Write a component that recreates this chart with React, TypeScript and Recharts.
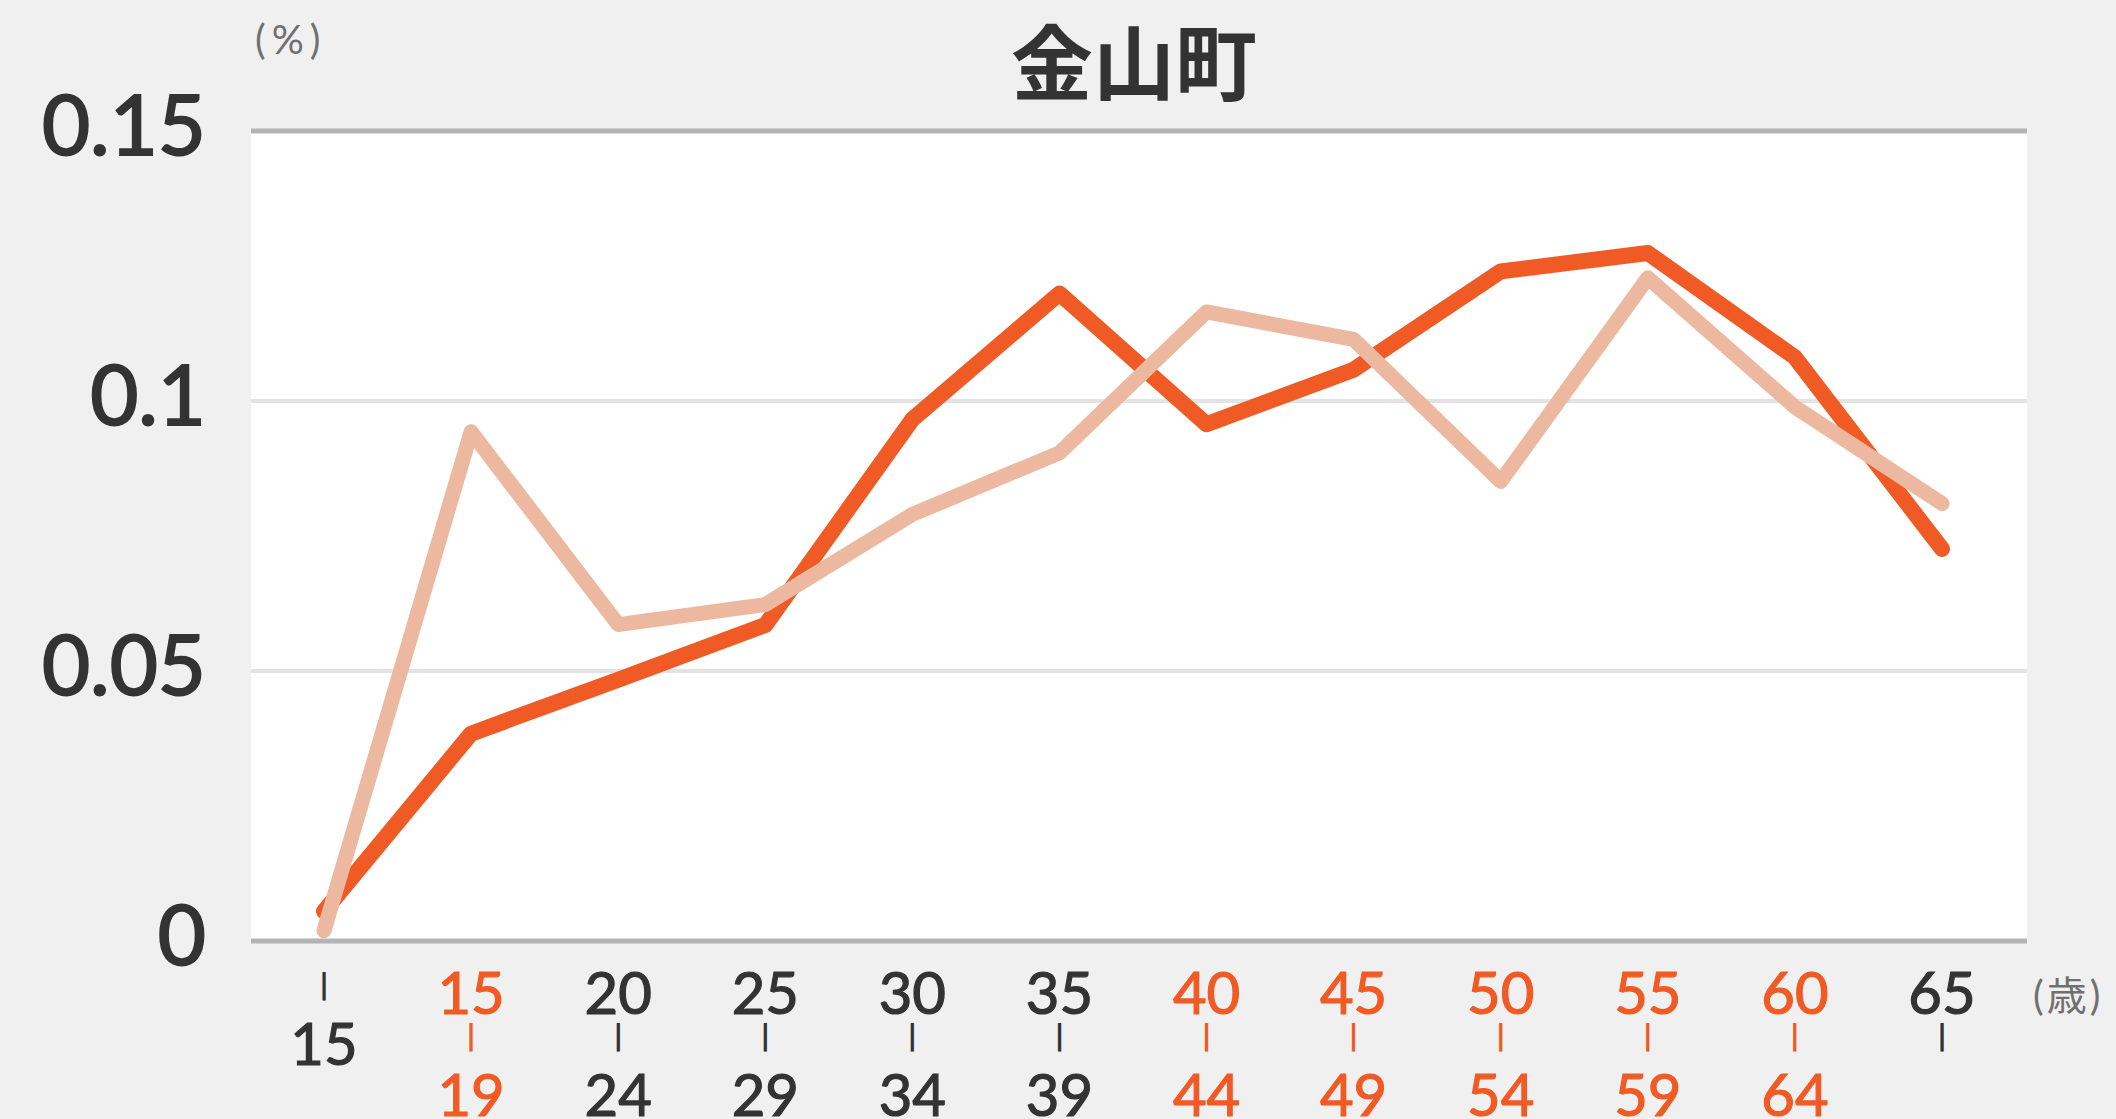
import React from "react";
import { LineChart, Line, XAxis, YAxis, CartesianGrid, ReferenceLine } from "recharts";

// Age bands ("~15" = under 15, "65~" = 65 and over) and the two rate series (%).
const ageBands = ["~15", "15-19", "20-24", "25-29", "30-34", "35-39", "40-44", "45-49", "50-54", "55-59", "60-64", "65~"];
const townRate = [0.0055, 0.0384, 0.0484, 0.0585, 0.0966, 0.1199, 0.0957, 0.1058, 0.124, 0.1274, 0.1081, 0.0726];
const compareRate = [0.0019, 0.0943, 0.0586, 0.0623, 0.079, 0.0904, 0.1165, 0.1114, 0.0851, 0.1228, 0.0989, 0.081];
const yTicks = [0, 0.05, 0.1, 0.15];
// bands whose labels are drawn in the accent colour
const highlightedBands = ["15-19", "40-44", "45-49", "50-54", "55-59", "60-64"];

const TITLE = "金山町";
const ORANGE = "#f05a24";
const PEACH = "#ecb8a0";
const DARK = "#333333";
const GREY_TEXT = "#707070";
const NUM_FONT = "Lato, 'Noto Sans CJK JP', sans-serif";

const data = ageBands.map((age, i) => ({ age, town: townRate[i], compare: compareRate[i] }));

function YTick({ x, y, payload }: any) {
  return (
    <text
      x={x}
      y={y - 5}
      dy="0.355em"
      textAnchor="end"
      fontFamily={NUM_FONT}
      fontSize={83}
      fill={DARK}
      stroke={DARK}
      strokeWidth={2}
    >
      {String(payload.value)}
    </text>
  );
}

// splits "15-19" into stacked rows: 15 / | / 19
function bandRows(key: string): string[] {
  if (key.startsWith("~")) return ["|", key.slice(1)];
  if (key.endsWith("~")) return [key.slice(0, -1), "|"];
  const [a, b] = key.split("-");
  return [a, "|", b];
}

function AgeTick({ x, y, payload }: any) {
  const key = payload.value as string;
  const color = highlightedBands.includes(key) ? ORANGE : DARK;
  return (
    <g>
      {bandRows(key).map((t, i) => {
        const top = y + 31 + 51 * i;
        return t === "|" ? (
          <text key={i} x={x} y={top + 22} textAnchor="middle" fontFamily="'DejaVu Sans'" fontWeight="bold" fontSize={29} fill={color}>
            |
          </text>
        ) : (
          <text
            key={i}
            x={x}
            y={top + 42}
            textAnchor="middle"
            fontFamily={NUM_FONT}
            fontSize={58}
            fill={color}
            stroke={color}
            strokeWidth={1.2}
          >
            {t}
          </text>
        );
      })}
    </g>
  );
}

export default function App() {
  return (
    <div style={{ position: "fixed", left: 0, top: 0, width: 2116, height: 1119, background: "#f0f0f0" }}>
      <LineChart width={2116} height={1119} data={data} margin={{ top: 131, right: 89, bottom: 0, left: 51 }}>
        <CartesianGrid vertical={false} fill="#ffffff" stroke="#e3e3e3" strokeWidth={4} />
        <XAxis
          dataKey="age"
          height={178}
          interval={0}
          padding={{ left: 73, right: 85 }}
          tickSize={0}
          tickMargin={0}
          tickLine={false}
          axisLine={{ stroke: "#b3b3b3", strokeWidth: 5 }}
          tick={<AgeTick />}
        />
        <YAxis
          width={200}
          domain={[0, yTicks[yTicks.length - 1]]}
          ticks={yTicks}
          interval={0}
          tickSize={0}
          tickMargin={45}
          tickLine={false}
          axisLine={false}
          tick={<YTick />}
        />
        <ReferenceLine y={yTicks[yTicks.length - 1]} stroke="#b3b3b3" strokeWidth={5} />
        <Line
          type="linear"
          dataKey="town"
          stroke={ORANGE}
          strokeWidth={16}
          strokeLinecap="round"
          strokeLinejoin="round"
          dot={false}
          activeDot={false}
          isAnimationActive={false}
        />
        <Line
          type="linear"
          dataKey="compare"
          stroke={PEACH}
          strokeWidth={15}
          strokeLinecap="round"
          strokeLinejoin="round"
          dot={false}
          activeDot={false}
          isAnimationActive={false}
        />
      </LineChart>
      <svg width={2116} height={1119} style={{ position: "absolute", left: 0, top: 0, pointerEvents: "none" }}>
        <text x={1134} y={94} textAnchor="middle" fontFamily="'Noto Sans CJK JP'" fontWeight="bold" fontSize={82} fill={DARK}>
          {TITLE}
        </text>
        <text x={255} y={54} fontFamily={NUM_FONT} fontSize={40} letterSpacing={6} fill={GREY_TEXT}>
          (%)
        </text>
        <text x={2033} y={1010} fontFamily={NUM_FONT} fontSize={40} letterSpacing={3} fill={GREY_TEXT}>
          (歳)
        </text>
      </svg>
    </div>
  );
}
